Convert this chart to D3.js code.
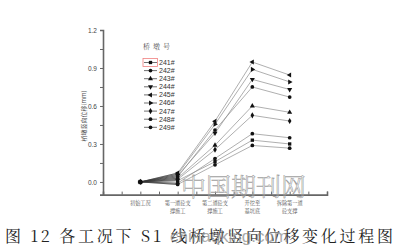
<!DOCTYPE html>
<html>
<head>
<meta charset="utf-8">
<script src="https://cdn.jsdelivr.net/npm/d3@7"></script>
<style>
  body { margin: 0; background: #fff; }
  svg { display: block; }
</style>
</head>
<body>
<svg width="403" height="247"></svg>
<script>
// working conditions (x categories)
var stages = ["初始工况", "第一道砼支撑施工", "第二道砼支撑施工", "开挖至基坑底", "拆除第一道砼支撑"]
var stageLines = [["初始工况"], ["第一道砼支", "撑施工"], ["第二道砼支", "撑施工"], ["开挖至", "基坑底"], ["拆除第一道", "砼支撑"]]

// pier numbers and their marker shapes
var piers = ["241#", "242#", "243#", "244#", "245#", "246#", "247#", "248#", "249#"]
var shapes = ["square", "circle", "triangle", "triangle", "triangle", "triangle", "diamond", "circle", "circle"]
var rotations = [0, 0, 0, 180, 270, 90, 0, 0, 0]

// vertical displacement (mm) per pier, one value per stage
var s241 = [0, 0.01, 0.16, 0.33, 0.30]
var s242 = [0, 0.04, 0.41, 0.75, 0.67]
var s243 = [0, 0.03, 0.29, 0.60, 0.55]
var s244 = [0, 0.05, 0.385, 0.81, 0.73]
var s245 = [0, 0.07, 0.48, 0.947, 0.844]
var s246 = [0, 0.06, 0.455, 0.889, 0.79]
var s247 = [0, 0.02, 0.255, 0.526, 0.481]
var s248 = [0, -0.01, 0.185, 0.381, 0.349]
var s249 = [0, -0.02, 0.135, 0.288, 0.267]
var series = [s241, s242, s243, s244, s245, s246, s247, s248, s249]

var yTicks = [0.0, 0.3, 0.6, 0.9, 1.2]

var svg = d3.select("svg")
var margin = {left: 103, top: 30, right: 76, bottom: 53}
var width = 403 - margin.left - margin.right,
    height = 247 - margin.top - margin.bottom

var x = d3.scaleLinear().domain([0, 6]).range([0, width])
var y = d3.scaleLinear().domain([-0.1, 1.2]).range([height + 0.6, 0])

var g = svg.append("g").attr("transform", "translate(" + margin.left + "," + margin.top + ")")

// watermark behind the plot
svg.append("text")
  .attr("x", 181).attr("y", 196)
  .attr("font-family", "Noto Serif CJK SC, Noto Sans CJK SC")
  .attr("font-size", 25)
  .attr("font-weight", 300)
  .attr("fill", "#fff")
  .attr("fill-opacity", 0)
  .attr("stroke", "#a0a0a0")
  .attr("stroke-width", 0.6)
  .text("中国期刊网")

// lines
var line = d3.line()
  .x(function(d, i) { return x(i + 1) })
  .y(function(d) { return y(d) })

g.selectAll(".ser")
  .data(series)
  .enter()
  .append("path")
  .attr("d", line)
  .attr("fill", "none")
  .attr("stroke", "#8c8c8c")
  .attr("stroke-width", 0.7)

// first segment looks darker where they overlap
g.selectAll(".seg")
  .data(series)
  .enter()
  .append("line")
  .attr("x1", x(1)).attr("y1", function(d) { return y(d[0]) })
  .attr("x2", x(2)).attr("y2", function(d) { return y(d[1]) })
  .attr("stroke", "#333")
  .attr("stroke-width", 0.6)

function symbolOf(i) {
  var t = {square: d3.symbolSquare, circle: d3.symbolCircle, triangle: d3.symbolTriangle, diamond: d3.symbolDiamond}[shapes[i]]
  return d3.symbol().type(t).size(11)()
}

// markers
series.forEach(function(s, si) {
  g.selectAll(".m" + si)
    .data(s)
    .enter()
    .append("path")
    .attr("d", symbolOf(si))
    .attr("transform", function(d, i) {
      return "translate(" + x(i + 1) + "," + y(d) + ")rotate(" + rotations[si] + ")"
    })
    .attr("fill", "#111")
})

// axes
var axisColor = "#666"
var xAxis = g.append("g")
  .attr("transform", "translate(0," + y(-0.1) + ")")
  .call(d3.axisBottom(x).tickValues(d3.range(0.5, 6.01, 0.5)).tickSize(-3).tickFormat(""))
xAxis.select(".domain").attr("stroke", axisColor).attr("stroke-width", 1.6)
xAxis.selectAll(".tick line").attr("stroke", axisColor)

var yAxis = g.append("g")
  .call(d3.axisLeft(y).tickValues(d3.range(-0.0, 1.21, 0.15)).tickSize(3).tickFormat(function(d) {
    var r = Math.round(d * 100) / 100
    return yTicks.indexOf(r) >= 0 ? r.toFixed(1) : ""
  }))
yAxis.select(".domain").attr("stroke", axisColor).attr("stroke-width", 1.6)
yAxis.selectAll(".tick line").attr("stroke", axisColor)
yAxis.selectAll(".tick text")
  .attr("font-family", "Liberation Sans, Arial")
  .attr("font-size", 6.5)
  .attr("fill", "#444")
  .attr("x", -6)

// x labels
var xl = g.selectAll(".xl")
  .data(stageLines)
  .enter()
  .append("text")
  .attr("x", function(d, i) { return x(i + 1) })
  .attr("y", height + 11)
  .attr("text-anchor", "middle")
  .attr("font-family", "Noto Serif CJK SC, Noto Sans CJK SC")
  .attr("font-size", 5.2)
  .attr("fill", "#555")
xl.selectAll("tspan")
  .data(function(d) { return d })
  .enter()
  .append("tspan")
  .attr("x", function() { return d3.select(this.parentNode).attr("x") })
  .attr("dy", function(d, i) { return i ? 8 : 0 })
  .text(function(d) { return d })

// y label
svg.append("text")
  .attr("transform", "translate(86,116)rotate(-90)")
  .attr("text-anchor", "middle")
  .attr("font-family", "Noto Sans CJK SC")
  .attr("font-size", 6)
  .attr("fill", "#555")
  .text("桥墩竖向位移(mm)")

// legend
svg.append("text")
  .attr("x", 143).attr("y", 49)
  .attr("font-family", "Noto Serif CJK SC, Noto Sans CJK SC")
  .attr("font-size", 7)
  .attr("letter-spacing", 3)
  .attr("fill", "#555")
  .text("桥墩号")

var legend = svg.selectAll(".legend")
  .data(piers)
  .enter()
  .append("g")
  .attr("transform", function(d, i) { return "translate(143," + (62.5 + i * 8.1) + ")" })

legend.append("line")
  .attr("x1", 1).attr("x2", 14)
  .attr("stroke", "#333").attr("stroke-width", 0.7)
legend.append("path")
  .attr("d", function(d, i) { return symbolOf(i) })
  .attr("transform", function(d, i) { return "translate(7.5,0)rotate(" + rotations[i] + ")" })
  .attr("fill", "#111")
legend.append("text")
  .attr("x", 16).attr("dy", "0.35em")
  .attr("font-family", "Liberation Sans, Arial")
  .attr("font-size", 7)
  .attr("fill", "#333")
  .text(function(d) { return d })

// selection box around the first legend sample
svg.append("rect")
  .attr("x", 143).attr("y", 58.5)
  .attr("width", 14.5).attr("height", 8)
  .attr("fill", "none")
  .attr("stroke", "#f08080")
  .attr("stroke-width", 0.8)

// caption
svg.append("text")
  .attr("x", 5).attr("y", 242)
  .attr("font-family", "Noto Serif CJK SC, Noto Sans CJK SC")
  .attr("font-size", 16)
  .attr("fill", "#222")
  .attr("textLength", 388)
  .attr("lengthAdjust", "spacing")
  .text("图 12 各工况下 S1 线桥墩竖向位移变化过程图")

svg.append("text")
  .attr("x", 170).attr("y", 242)
  .attr("font-family", "Liberation Sans, Arial")
  .attr("font-size", 17)
  .attr("fill", "#888")
  .attr("opacity", 0.7)
  .text("chinaqking.com")
</script>
</body>
</html>
